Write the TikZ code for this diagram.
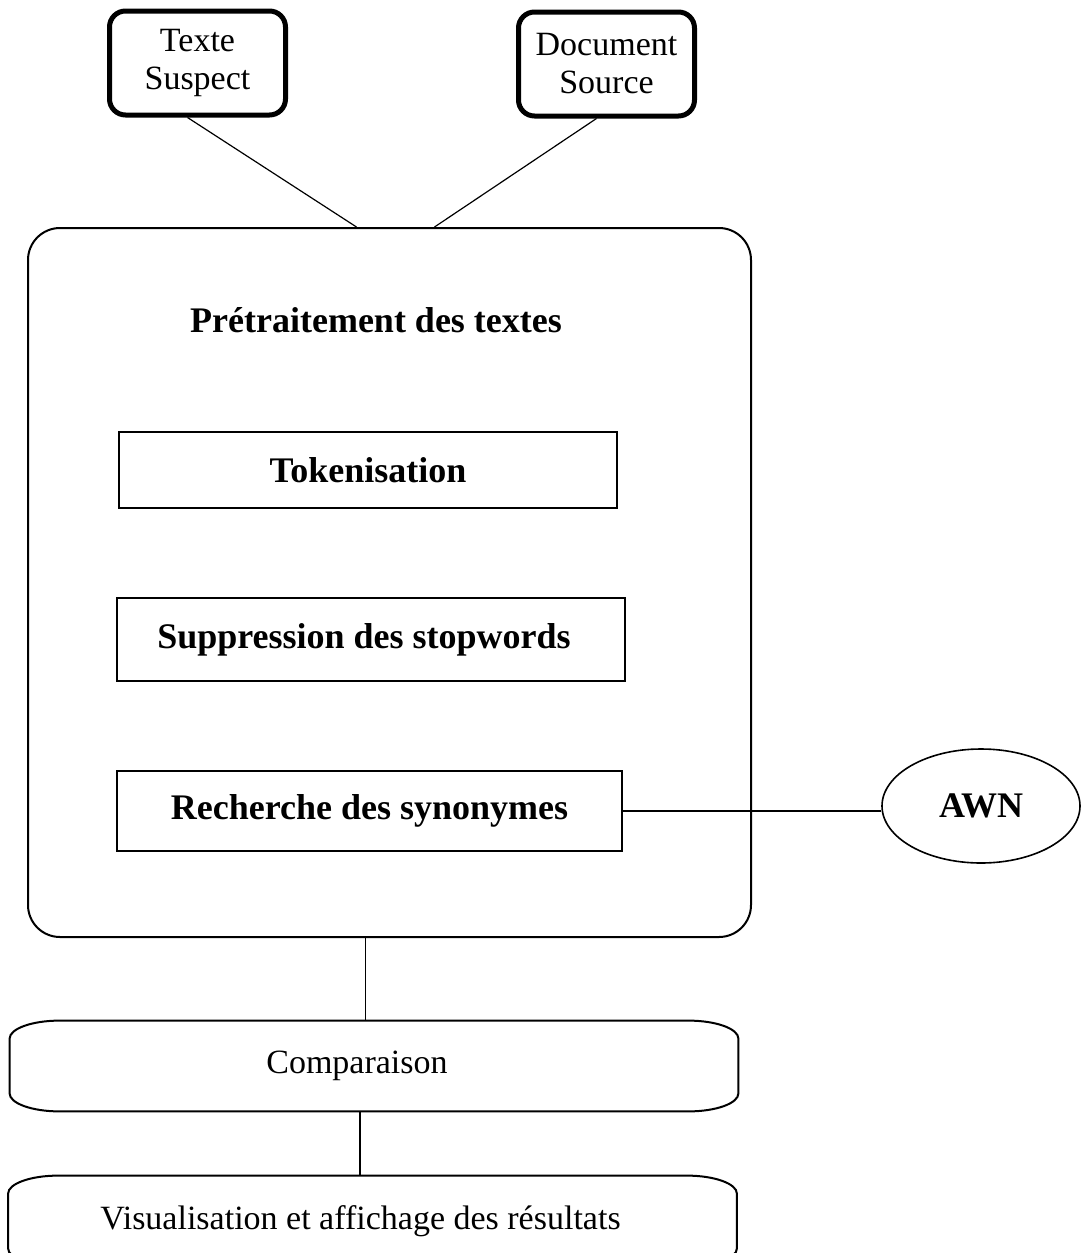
\documentclass[tikz,border=0pt]{standalone}
\usepackage{fontspec}
\setmainfont{Liberation Serif}
\usepackage{tikz}
\usetikzlibrary{
	calc,
	positioning,
	shapes.geometric
}

\tikzset{
	srcbox/.style={draw, line width=2.5pt, rounded corners=8pt, minimum width=88pt, minimum height=52pt, align=center},
	stepbox/.style={draw, line width=1pt, font=\fontsize{18}{20}\selectfont\bfseries},
	link/.style={line width=0.6pt},
	pill/.style={minimum width=364pt}
}

\begin{document}
\begin{tikzpicture}[x=0.5pt, y=0.5pt, font=\fontsize{17}{19}\selectfont]
			\useasboundingbox (0,0) rectangle (1082,-1253);
			% entrees
			\node[srcbox] (suspect) at (197.5,-63) {Texte\\Suspect};
			\node[srcbox] (source) at (606.5,-64) {Document\\Source};
			% pretraitement
			\node[draw, line width=1pt, rounded corners=16pt, minimum width=361.5pt, minimum height=354.5pt] (pre) at (389.5,-582.5) {};
			\node[font=\fontsize{18}{20}\selectfont\bfseries] (pretitle) at (376,-320) {Prétraitement des textes};
			\node[stepbox, minimum width=249pt, minimum height=38pt] (tok) at (368,-470) {Tokenisation};
			\node[stepbox, minimum width=254pt, minimum height=41.5pt] (stop) at (371,-639.5) {\hspace*{-7pt}Suppression des stopwords};
			\node[stepbox, minimum width=252.5pt, minimum height=40pt] (syn) at (369.5,-811) {Recherche des synonymes};
			\node[draw, ellipse, line width=0.8pt, minimum width=99pt, minimum height=57pt, font=\fontsize{18}{20}\selectfont\bfseries] (awn) at (981,-806) {AWN};
			% comparaison et resultats
			\node[pill, minimum height=45pt] (cmp) at (374,-1066) {\hspace*{-17pt}Comparaison};
			\node[pill, minimum height=45pt] (vis) at (372.5,-1221) {\hspace*{-12pt}Visualisation et affichage des résultats};
			\draw[line width=1pt] ($(cmp.north west)+(50,0)$) -- ($(cmp.north east)+(-50,0)$)
				arc[start angle=90, end angle=0, x radius=25pt, y radius=9pt]
				-- ($(cmp.south east)+(0,18)$)
				arc[start angle=0, end angle=-90, x radius=25pt, y radius=9pt]
				-- ($(cmp.south west)+(50,0)$)
				arc[start angle=270, end angle=180, x radius=25pt, y radius=9pt]
				-- ($(cmp.north west)+(0,-18)$)
				arc[start angle=180, end angle=90, x radius=25pt, y radius=9pt];
			\draw[line width=1pt] ($(vis.north west)+(50,0)$) -- ($(vis.north east)+(-50,0)$)
				arc[start angle=90, end angle=0, x radius=25pt, y radius=9pt]
				-- ($(vis.south east)+(0,18)$)
				arc[start angle=0, end angle=-90, x radius=25pt, y radius=9pt]
				-- ($(vis.south west)+(50,0)$)
				arc[start angle=270, end angle=180, x radius=25pt, y radius=9pt]
				-- ($(vis.north west)+(0,-18)$)
				arc[start angle=180, end angle=90, x radius=25pt, y radius=9pt];
			% liens
			\draw[link] ([xshift=-5pt]suspect.south) -- ($(pre.north)+(-33,0)$);
			\draw[link] ([xshift=-5pt]source.south) -- ($(pre.north)+(45,0)$);
			\draw[link] (syn.east) -- (syn.east -| awn.west);
			\draw[link] ([xshift=-12pt]pre.south) -- ([xshift=-12pt]pre.south |- cmp.north);
			\draw[link] ([xshift=-7pt]cmp.south) -- ([xshift=-7pt]cmp.south |- vis.north);
		\end{tikzpicture}
\end{document}
